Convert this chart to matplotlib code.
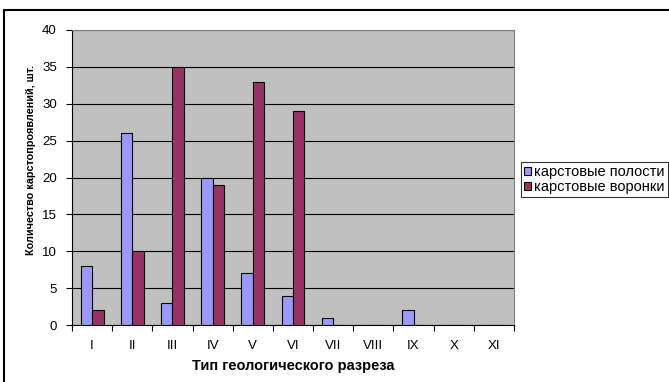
import numpy as np
import matplotlib
matplotlib.use('Agg')
import matplotlib.pyplot as plt
from matplotlib.patches import Rectangle

plt.rcParams['font.family'] = ['Liberation Sans', 'DejaVu Sans']

types = ['I', 'II', 'III', 'IV', 'V', 'VI', 'VII', 'VIII', 'IX', 'X', 'XI']
cavities = [8, 26, 3, 20, 7, 4, 1, 0, 2, 0, 0]
sinkholes = [2, 10, 35, 19, 33, 29, 0, 0, 0, 0, 0]

W, H = 669, 382
fig = plt.figure(figsize=(W / 100, H / 100), dpi=100)
ax = fig.add_axes([72 / W, 1 - 325 / H, (514 - 72) / W, (325 - 30) / H])
ax.set_facecolor('#C0C0C0')

x = np.arange(len(types))
bw = 1 / 3.5
ax.bar(x - bw / 2, cavities, bw, color='#9999FF', edgecolor='black', linewidth=0.8,
       label='карстовые полости', zorder=3)
ax.bar(x + bw / 2, sinkholes, bw, color='#993366', edgecolor='black', linewidth=0.8,
       label='карстовые воронки', zorder=3)

ax.set_xlim(-0.5, len(types) - 0.5)
ax.set_ylim(0, 40)
ax.set_yticks(range(0, 41, 5))
ax.yaxis.grid(True, color='black', linewidth=0.8, zorder=1)
ax.set_axisbelow(True)

ax.set_xticks(x)
ax.set_xticklabels(types, fontsize=9.5)
ax.set_xticks(np.arange(-0.5, len(types), 1), minor=True)
ax.tick_params(axis='x', which='major', length=0, pad=11)
ax.tick_params(axis='x', which='minor', length=4, width=0.8, direction='out')
ax.tick_params(axis='y', length=4, width=0.8, direction='out', labelsize=9.5, pad=7)

for side in ('top', 'right'):
    ax.spines[side].set_color('#808080')
for side in ('left', 'bottom'):
    ax.spines[side].set_color('black')
    ax.spines[side].set_linewidth(0.8)

ax.set_xlabel('Тип геологического разреза', fontsize=10.5, fontweight='bold', labelpad=5)
ax.set_ylabel('Количество карстопроявлений, шт.', fontsize=7.8, fontweight='bold')
ax.yaxis.set_label_coords(-0.081, 0.56)

leg = fig.legend(loc='upper left', bbox_to_anchor=(521 / W, 1 - 162 / H),
                 fontsize=10.5, frameon=True, fancybox=False, edgecolor='black',
                 handlelength=0.5, handleheight=0.5, handletextpad=0.2,
                 borderpad=0.2, labelspacing=0.1, borderaxespad=0)
leg.get_frame().set_linewidth(0.8)

# outer chart frame
fig.patches.append(Rectangle((4 / W, -0.1), 1.2, 1 - 10 / H + 0.1, transform=fig.transFigure,
                             fill=False, edgecolor='black', linewidth=1.5))

fig.savefig('out.png', dpi=100)
